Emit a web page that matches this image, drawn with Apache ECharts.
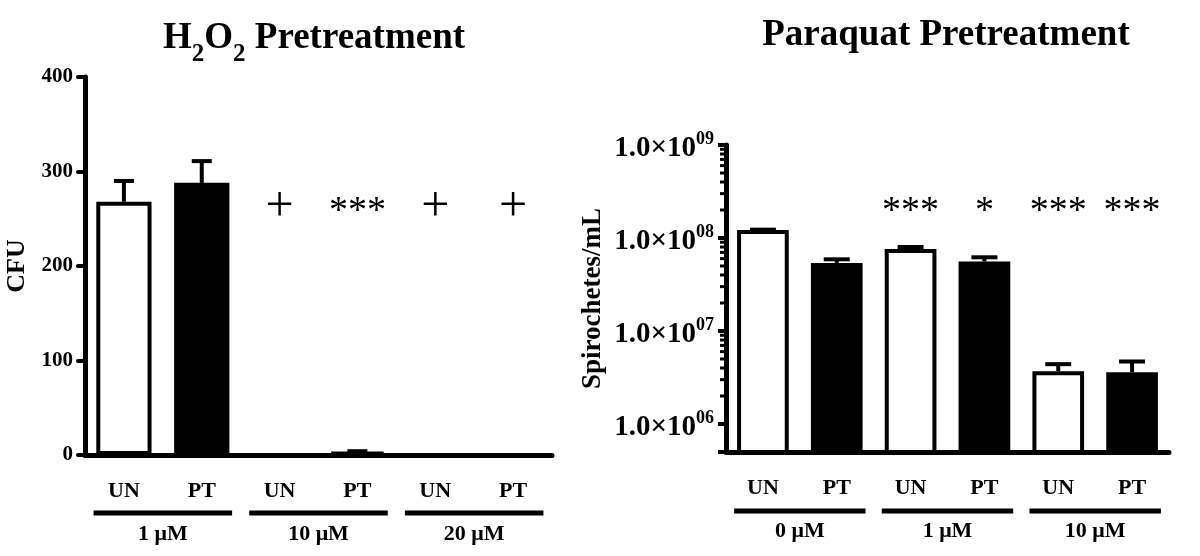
<!DOCTYPE html>
<html>
<head>
<meta charset="utf-8">
<script src="https://cdn.jsdelivr.net/npm/echarts@6/dist/echarts.min.js"></script>
<style>
html,body{margin:0;padding:0;background:#fff;}
#c{width:1200px;height:556px;}
</style>
</head>
<body>
<div id="c"></div>
<script>
// ---------- data ----------
const categories = ['UN', 'PT', 'UN', 'PT', 'UN', 'PT'];

// H2O2 pretreatment (CFU)
const h2o2Groups = ['1 μM', '10 μM', '20 μM'];
const h2o2Values = [268, 288, 0, 3, 0, 0];
const h2o2Errors = [22, 23, 0, 1, 0, 0];
const h2o2Marks = ['', '', '+', '***', '+', '+'];
const h2o2Ticks = [0, 100, 200, 300, 400];

// Paraquat pretreatment (Spirochetes/mL)
const pqGroups = ['0 μM', '1 μM', '10 μM'];
const pqValues = [1.22e8, 5.4e7, 7.6e7, 5.6e7, 3.7e6, 3.6e6];
const pqErrors = [0.01e8, 0.5e7, 0.4e7, 0.6e7, 0.7e6, 1.1e6];
const pqMarks = ['', '', '***', '*', '***', '***'];
const pqTicks = [1e6, 1e7, 1e8, 1e9];

// ---------- helpers ----------
const SERIF = 'Liberation Serif';
const BLACK = '#000';

function barData(values) {
  return values.map((v, i) => ({
    value: v,
    itemStyle: categories[i] === 'UN'
      ? { color: '#fff', borderColor: BLACK, borderWidth: 4 }
      : { color: BLACK, borderColor: BLACK, borderWidth: 4 }
  }));
}

function errSeries(gridIdx, values, errors, capW) {
  return {
    type: 'custom', xAxisIndex: gridIdx, yAxisIndex: gridIdx, z: 5,
    data: values.map((v, i) => [i, v, errors[i]]),
    renderItem: function (params, api) {
      const i = api.value(0), v = api.value(1), e = api.value(2);
      if (!(e > 0) || !(v > 0)) return null;
      const p0 = api.coord([i, v]);
      const p1 = api.coord([i, v + e]);
      const st = { stroke: BLACK, lineWidth: 4, fill: null };
      return { type: 'group', children: [
        { type: 'line', shape: { x1: p0[0], y1: p0[1], x2: p1[0], y2: p1[1] }, style: st },
        { type: 'line', shape: { x1: p1[0] - capW / 2, y1: p1[1], x2: p1[0] + capW / 2, y2: p1[1] }, style: st }
      ]};
    }
  };
}

function markSeries(gridIdx, marks, yVal) {
  return {
    type: 'custom', xAxisIndex: gridIdx, yAxisIndex: gridIdx, z: 6,
    data: marks.map((m, i) => [i, yVal]),
    renderItem: function (params, api) {
      const txt = marks[params.dataIndex];
      if (!txt) return null;
      const p = api.coord([api.value(0), api.value(1)]);
      const isPlus = txt === '+';
      return { type: 'text', x: p[0], y: p[1] + (isPlus ? 0 : 5), style: {
        text: txt, fill: BLACK,
        font: 'normal ' + (isPlus ? 50 : 38) + 'px "' + SERIF + '"',
        align: 'center', verticalAlign: 'middle'
      }};
    }
  };
}

function groupSeries(gridIdx, groups, yVal, lineOff, textOff) {
  return {
    type: 'custom', xAxisIndex: gridIdx, yAxisIndex: gridIdx, z: 6, clip: false,
    data: groups.map((g, k) => [2 * k, 2 * k + 1, yVal]),
    encode: { x: [0, 1], y: 2 },
    renderItem: function (params, api) {
      const a = api.coord([api.value(0), yVal]);
      const b = api.coord([api.value(1), yVal]);
      const band = api.size([1, 0])[0];
      const ext = band * 0.39;
      const y = a[1] + lineOff;
      return { type: 'group', children: [
        { type: 'line', shape: { x1: a[0] - ext, y1: y, x2: b[0] + ext, y2: y },
          style: { stroke: BLACK, lineWidth: 5 } },
        { type: 'text', x: (a[0] + b[0]) / 2, y: a[1] + textOff, style: {
          text: groups[params.dataIndex], fill: BLACK,
          font: 'bold 22px "' + SERIF + '"', align: 'center', verticalAlign: 'middle' } }
      ]};
    }
  };
}

function minorTickSeries(gridIdx, ticks) {
  const minor = [];
  for (let d = 0; d < ticks.length - 1; d++) {
    for (let k = 2; k <= 9; k++) minor.push(k * ticks[d]);
  }
  return {
    type: 'custom', xAxisIndex: gridIdx, yAxisIndex: gridIdx, z: 6, clip: false,
    data: minor.map(v => [0, v]),
    renderItem: function (params, api) {
      const p = api.coord([0, api.value(1)]);
      const band = api.size([1, 0])[0];
      const x = p[0] - band / 2;
      return { type: 'line', shape: { x1: x - 6, y1: p[1], x2: x, y2: p[1] },
        style: { stroke: BLACK, lineWidth: 3 } };
    }
  };
}

const xAxisCommon = {
  type: 'category', data: categories,
  axisLine: { lineStyle: { color: BLACK, width: 5 } },
  axisTick: { alignWithLabel: true, length: 8, lineStyle: { color: BLACK, width: 5, cap: 'round' } },
  axisLabel: { color: BLACK, fontFamily: SERIF, fontWeight: 'bold', fontSize: 22, margin: 25 },
  splitLine: { show: false }
};

const chart = echarts.init(document.getElementById('c'), null, { renderer: 'canvas' });
chart.setOption({
  animation: false,
  backgroundColor: '#fff',
  title: [
    { text: '{t|H}{s|2}{t|O}{s|2}{t| Pretreatment}', left: 309, top: 4, textAlign: 'center',
      textStyle: { rich: {
        t: { fontFamily: SERIF, fontWeight: 'bold', fontSize: 37, color: BLACK, lineHeight: 42 },
        s: { fontFamily: SERIF, fontWeight: 'bold', fontSize: 25, color: BLACK, lineHeight: 58, verticalAlign: 'bottom' }
      } } },
    { text: 'Paraquat Pretreatment', left: 941, top: 12, textAlign: 'center',
      textStyle: { fontFamily: SERIF, fontWeight: 'bold', fontSize: 37, color: BLACK } }
  ],
  grid: [
    { left: 85, top: 77, width: 467, height: 378 },
    { left: 726, top: 145, width: 443, height: 307 }
  ],
  xAxis: [
    Object.assign({ gridIndex: 0 }, xAxisCommon),
    Object.assign({ gridIndex: 1 }, xAxisCommon)
  ],
  yAxis: [
    { gridIndex: 0, type: 'value', min: h2o2Ticks[0], max: h2o2Ticks[h2o2Ticks.length - 1], interval: 100,
      name: 'CFU', nameLocation: 'middle', nameGap: 55, nameRotate: 90,
      nameTextStyle: { fontFamily: SERIF, fontWeight: 'bold', fontSize: 26, color: BLACK },
      axisLine: { show: true, lineStyle: { color: BLACK, width: 5 } },
      axisTick: { show: true, length: 7, lineStyle: { color: BLACK, width: 4, cap: 'round' } },
      axisLabel: { color: BLACK, fontFamily: SERIF, fontWeight: 'bold', fontSize: 21, margin: 12 },
      splitLine: { show: false } },
    { gridIndex: 1, type: 'log', logBase: 10, min: 5e5, max: pqTicks[pqTicks.length - 1],
      name: 'Spirochetes/mL', nameLocation: 'middle', nameGap: 119, nameRotate: 90,
      nameTextStyle: { fontFamily: SERIF, fontWeight: 'bold', fontSize: 27, color: BLACK },
      axisLine: { show: true, lineStyle: { color: BLACK, width: 5 } },
      axisTick: { show: true, length: 8, lineStyle: { color: BLACK, width: 4 } },
      axisLabel: { margin: 12,
        formatter: function (v) {
          if (!pqTicks.some(t => Math.abs(t - v) / t < 1e-6)) return '';
          const e = Math.round(Math.log10(v));
          return '{a|1.0×10}{s|' + String(e).padStart(2, '0') + '}';
        },
        rich: {
          a: { fontFamily: SERIF, fontWeight: 'bold', fontSize: 29, color: BLACK, lineHeight: 30, padding: [8, 0, 0, 0] },
          s: { fontFamily: SERIF, fontWeight: 'bold', fontSize: 18, color: BLACK, lineHeight: 30, verticalAlign: 'top' }
        } },
      splitLine: { show: false } }
  ],
  series: [
    { type: 'bar', xAxisIndex: 0, yAxisIndex: 0, barWidth: '71%', data: barData(h2o2Values), z: 3 },
    errSeries(0, h2o2Values, h2o2Errors, 20),
    markSeries(0, h2o2Marks, 262),
    groupSeries(0, h2o2Groups, 0, 58, 79),
    { type: 'bar', xAxisIndex: 1, yAxisIndex: 1, barWidth: '70%', data: barData(pqValues), z: 3 },
    errSeries(1, pqValues, pqErrors, 26),
    markSeries(1, pqMarks, 2.15e8),
    groupSeries(1, pqGroups, 5e5, 59, 79),
    minorTickSeries(1, pqTicks)
  ]
});
</script>
</body>
</html>
